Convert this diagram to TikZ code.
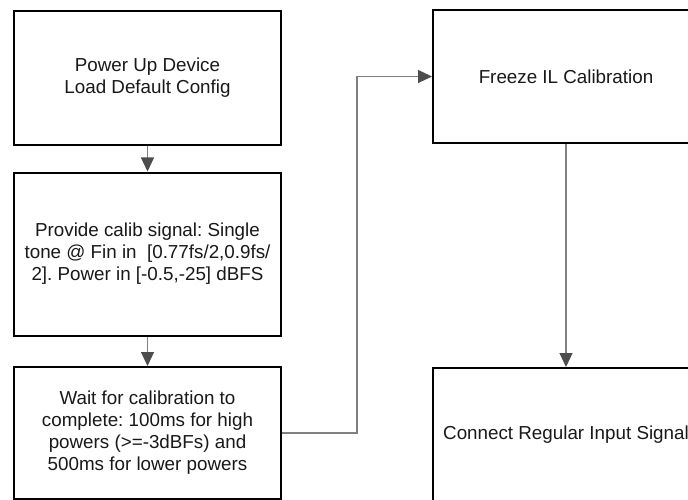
\documentclass[tikz,border=0pt]{standalone}
\usepackage{fontspec}
\setmainfont{Liberation Sans}
\frenchspacing
\usetikzlibrary{arrows.meta,calc}
\definecolor{linegray}{HTML}{808080}
\definecolor{tipgray}{HTML}{4D4D4D}
\tikzset{
  stepbox/.style={draw=black, line width=2pt, fill=white, rectangle, align=center,
    inner sep=0pt, font=\fontsize{18.8}{22}\selectfont\frenchspacing, text=black!90},
  flow/.style={draw=linegray, line width=1.2pt,
    -{Triangle[length=14pt,width=13pt,color=tipgray,fill=tipgray]}},
}
\begin{document}
\begin{tikzpicture}[x=1pt,y=-1pt]
  \useasboundingbox (0,0) rectangle (688,500);
  \clip (0,0) rectangle (688,500);
  \node[stepbox, minimum width=267pt, minimum height=134pt] (b1) at (147.5,78)
    {Power Up Device\\Load Default Config};
  \node[stepbox, minimum width=267pt, minimum height=163pt] (b2) at (147.5,254)
    {Provide calib signal: Single\\tone @ Fin in \ [0.77fs/2,0.9fs/\\2]. Power in [-0.5,-25] dBFS};
  \node[stepbox, minimum width=267pt, minimum height=132pt] (b3) at (147.5,433)
    {Wait for calibration to\\complete: 100ms for high\\powers (>=-3dBFs) and\\500ms for lower powers};
  \node[stepbox, minimum width=266pt, minimum height=133pt] (b4) at (566,76.5)
    {Freeze IL Calibration};
  \node[stepbox, minimum width=266pt, minimum height=134pt] (b5) at (566,435)
    {Connect Regular Input Signal};
  \coordinate (j) at (357,0);
  \draw[flow] (b1.south) -- (b2.north);
  \draw[flow] (b2.south) -- (b3.north);
  \draw[flow] (b3.east) -- (b3.east -| j) |- (b4.west);
  \draw[flow] (b4.south) -- (b5.north);
\end{tikzpicture}
\end{document}
